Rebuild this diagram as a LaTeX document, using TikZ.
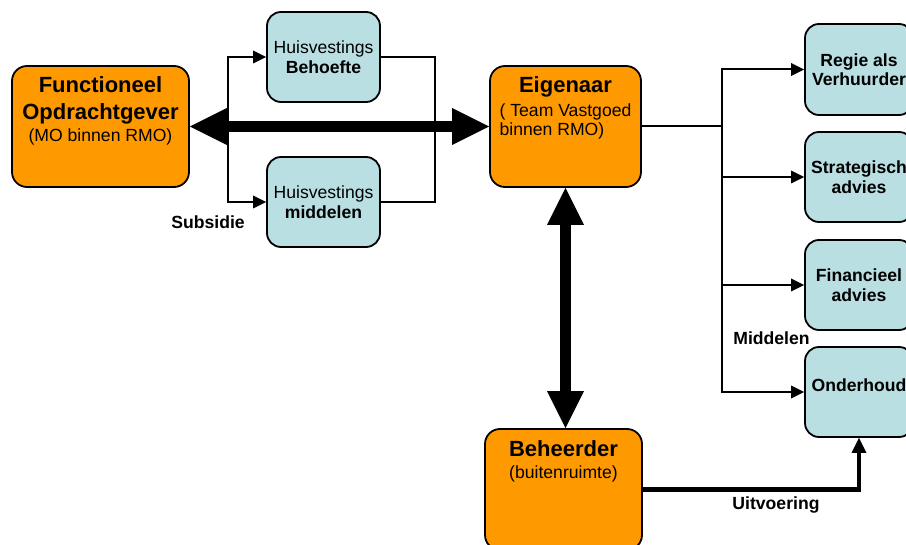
\documentclass[tikz,border=0pt]{standalone}
\usepackage{fontspec}
\setmainfont{Liberation Sans}
\usepackage{xcolor}
\usetikzlibrary{arrows.meta, positioning}

\definecolor{partyorange}{RGB}{255,153,0}
\definecolor{taskblue}{RGB}{185,223,227}

\begin{document}
\begin{tikzpicture}[x=1pt, y=-1pt,
  partybox/.style={draw, line width=1.8pt, rounded corners=15pt, fill=partyorange, minimum height=121pt, inner sep=0pt},
  taskbox/.style={draw, line width=1.8pt, rounded corners=14pt, fill=taskblue, minimum width=113pt, minimum height=90pt, inner sep=0pt, align=center, font=\fontsize{17.6}{19.5}\selectfont},
  servicebox/.style={taskbox, minimum width=108pt, font=\fontsize{17.6}{19.5}\selectfont\bfseries},
  headtext/.style={inner sep=0pt, align=center, font=\fontsize{22}{27.5}\selectfont\bfseries},
  subtext/.style={inner sep=0pt, align=left, font=\fontsize{17.6}{19.5}\selectfont},
  flowlabel/.style={inner sep=0pt, font=\fontsize{17.6}{19.5}\selectfont\bfseries},
  thinline/.style={line width=2pt},
  thinarrow/.style={thinline, -{Triangle[length=13pt, width=13pt, line width=0pt]}},
  bigarrow/.style={line width=11pt, {Triangle[length=37pt, width=37pt, line width=0pt]}-{Triangle[length=37pt, width=37pt, line width=0pt]}},
  workarrow/.style={line width=4.5pt, -{Triangle[length=15pt, width=15pt, line width=0pt]}}
]

% Fix the page
\useasboundingbox (0,0) rectangle (906,545);
\clip (0,0) rectangle (906,545);

% Draw the parties
\node[partybox, minimum width=177pt] (opdr) at (100.5,126.5) {};
\node[partybox, minimum width=151pt] (eig) at (565.5,126.5) {};
\node[partybox, minimum width=157pt] (beh) at (563.5,489.5) {};

% Texts of the parties
\node[headtext, below=11pt of opdr.north] (opdr-head) {Functioneel\\Opdrachtgever};
\node[subtext, below=3.5pt of opdr-head] (opdr-sub) {(MO binnen RMO)};
\node[headtext, below=11.3pt of eig.north] (eig-head) {Eigenaar};
\node[subtext, below=6pt of eig-head] (eig-sub) {( Team Vastgoed\\binnen RMO)};
\node[headtext, below=12pt of beh.north] (beh-head) {Beheerder};
\node[subtext, below=9pt of beh-head] (beh-sub) {(buitenruimte)};

% Draw the housing boxes
\node[taskbox] (hbehoefte) at (323.5,57) {Huisvestings\\\textbf{Behoefte}};
\node[taskbox] (hmiddelen) at (323.5,202) {Huisvestings\\\textbf{middelen}};

% Draw the services
\node[servicebox, minimum height=91pt] (regie) at (859,69.5) {Regie als\\Verhuurder};
\node[servicebox] (strat) at (859,177) {Strategisch\\advies};
\node[servicebox] (fin) at (859,285) {Financieel\\advies};
\node[servicebox, text depth=14pt] (ond) at (859,392) {Onderhoud};

% Housing loop
\coordinate (split) at (228,126.5);
\coordinate (merge) at (435,126.5);
\draw[thinarrow] (split) |- (hbehoefte.west);
\draw[thinarrow] (split) |- (hmiddelen.west);
\draw[thinline] (hbehoefte.east) -| (merge) |- (hmiddelen.east);

% Owner to services
\coordinate (bus) at (722,126.5);
\draw[thinline] (eig.east) -- (bus);
\foreach \svc in {regie, strat, fin, ond}
  \draw[thinarrow] (bus) |- (\svc.west);

% Thick arrows between the parties
\draw[bigarrow] (opdr.east) -- (eig.west);
\draw[bigarrow] (eig.south) -- (eig.south |- beh.north);

% Execution
\draw[workarrow] (beh.east) -| (ond.south);

% Labels
\node[flowlabel] (subsidie) at (208,222) {Subsidie};
\node[flowlabel] (middel-lbl) at (771.5,338) {Middelen};
\node[flowlabel] (uitvoering) at (776,504.5) {Uitvoering};

\end{tikzpicture}
\end{document}
